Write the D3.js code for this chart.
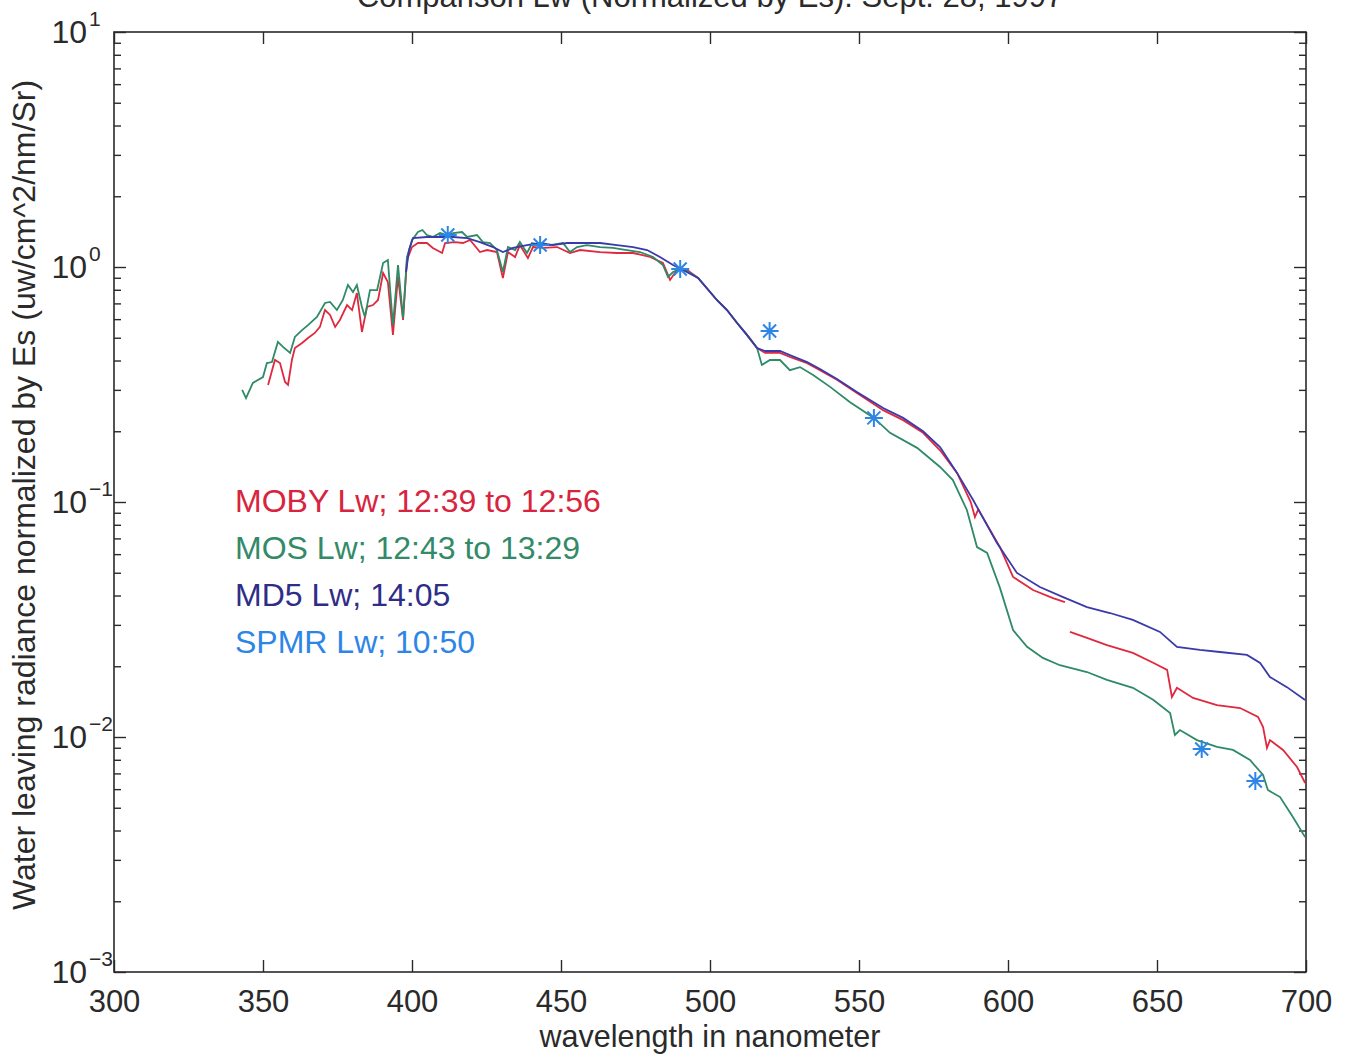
<!DOCTYPE html>
<html>
<head>
<meta charset="utf-8">
<script src="https://d3js.org/d3.v7.min.js"></script>
<style>
  body { margin: 0; background: #fff; }
  svg { font-family: "Liberation Sans", Arial, sans-serif; }
  .axis text { fill: #2a2a2a; }
  .axis line { stroke: #2a2a2a; stroke-width: 1.4; }
</style>
</head>
<body>
<svg id="chart" width="1346" height="1059"></svg>
<script>
// values: wavelength (nm) and Lw/Es
var mobyWave = [351.7,354.0,355.7,357.4,358.4,359.7,360.7,363.1,365.1,367.4,369.1,370.8,372.5,374.2,375.8,378.2,379.9,381.5,383.2,384.9,386.9,388.6,390.3,391.9,393.6,395.3,397.0,398.3,400.0,402.0,405.0,407.0,410.1,411.1,414.4,417.1,419.5,422.8,425.2,428.5,430.5,432.2,434.6,436.2,438.9,440.6,444.0,448.7,453.0,456.4,463.1,468.8,474.2,479.9,484.2,486.6,488.9,492.3,496.0,502.3,505.7,509.1,512.4,515.8,518.5,523.5,526.8,532.6,536.9,542.6,549.3,558.1,564.8,571.5,577.2,582.9,587.5,588.9,590.0,597.3,601.7,608.4,615.1,619.1,620.0,620.8,626.5,633.2,641.9,648.7,653.4,655.0,656.7,662.1,670.1,677.9,683.9,685.6,686.9,687.9,692.3,697.0,699.7];
var mobyLw = [0.315,0.402,0.390,0.324,0.315,0.402,0.452,0.475,0.499,0.524,0.556,0.656,0.625,0.556,0.595,0.689,0.656,0.775,0.529,0.676,0.689,0.724,0.943,0.863,0.514,0.907,0.595,1.071,1.216,1.265,1.265,1.205,1.147,1.265,1.277,1.265,1.303,1.158,1.181,1.158,0.898,1.158,1.103,1.240,1.092,1.216,1.205,1.216,1.147,1.181,1.158,1.147,1.147,1.103,1.040,0.881,0.971,0.971,0.898,0.724,0.656,0.578,0.514,0.452,0.431,0.431,0.414,0.390,0.364,0.331,0.291,0.246,0.223,0.197,0.166,0.133,0.100,0.0863,0.093,0.0643,0.0480,0.0422,0.0390,0.0375,null,0.0280,0.0264,0.0246,0.0228,0.0207,0.0193,0.0148,0.0162,0.01466,0.01368,0.01328,0.01217,0.01103,0.00898,0.0097,0.00881,0.00745,0.00637];

var mosWave = [343.0,344.3,346.6,350.0,351.3,353.0,355.0,356.7,359.1,360.7,363.1,365.1,368.1,370.8,372.5,374.8,376.8,378.5,380.2,381.5,383.2,384.2,385.9,388.3,390.3,391.9,393.6,395.3,397.0,398.3,400.0,402.0,403.5,405.0,407.0,409.4,411.7,413.8,416.8,418.5,421.8,423.8,426.2,428.5,430.5,432.2,434.6,436.2,438.6,440.3,443.0,446.3,450.7,453.0,455.4,458.7,463.1,467.4,472.1,476.5,480.9,484.2,485.9,487.6,490.6,493.3,496.0,502.3,505.7,509.1,512.4,515.8,517.4,520.1,523.5,526.8,530.2,534.6,540.3,547.0,555.0,560.4,569.5,577.2,581.5,586.2,589.6,593.0,597.3,601.7,606.4,611.7,617.4,626.5,633.2,641.9,648.7,654.4,656.0,657.7,663.4,670.1,675.5,681.2,685.6,687.2,691.3,695.6,699.7];
var mosLw = [0.300,0.277,0.321,0.340,0.390,0.394,0.480,0.457,0.431,0.504,0.539,0.566,0.613,0.703,0.710,0.656,0.724,0.838,0.782,0.838,0.676,0.613,0.798,0.798,1.040,1.071,0.566,1.020,0.607,1.100,1.300,1.410,1.437,1.368,1.342,1.395,1.368,1.395,1.409,1.342,1.368,1.277,1.265,1.181,0.952,1.216,1.181,1.277,1.147,1.265,1.240,1.240,1.265,1.158,1.216,1.240,1.216,1.205,1.181,1.158,1.103,1.020,0.907,0.952,0.990,0.943,0.898,0.724,0.656,0.578,0.514,0.452,0.383,0.402,0.402,0.364,0.375,0.347,0.309,0.266,0.228,0.197,0.170,0.141,0.124,0.0925,0.0643,0.0607,0.0431,0.0285,0.0242,0.0217,0.0202,0.0189,0.0175,0.0162,0.0144,0.01265,0.0102,0.0107,0.0097,0.00907,0.00881,0.00798,0.00689,0.00595,0.00555,0.00457,0.00375];

var md5Wave = [398.0,399.0,400.3,405.0,409.4,413.8,418.5,422.8,427.2,430.5,433.9,438.6,443.0,447.3,452.0,458.7,463.1,468.8,474.2,478.9,483.2,487.6,490.9,496.0,502.3,505.7,509.1,512.4,515.8,518.5,523.5,526.8,532.6,536.9,542.6,549.3,558.1,564.8,571.5,577.2,582.9,588.3,596.3,603.0,610.7,618.5,626.5,634.2,641.9,651.0,656.7,664.4,671.1,680.2,684.6,687.9,693.6,699.7];
var md5Lw = [0.95,1.18,1.328,1.342,1.342,1.342,1.328,1.277,1.216,1.158,1.205,1.240,1.265,1.240,1.265,1.265,1.265,1.240,1.216,1.181,1.103,1.020,0.971,0.898,0.724,0.656,0.578,0.514,0.452,0.439,0.439,0.422,0.394,0.368,0.334,0.294,0.251,0.228,0.200,0.1714,0.133,0.102,0.0669,0.0499,0.0435,0.0394,0.0357,0.0337,0.0315,0.0280,0.0242,0.02346,0.0230,0.02234,0.02065,0.0180,0.0163,0.01437];

var spmrWave = [412, 443, 490, 520, 555, 665, 683];
var spmrLw = [1.368, 1.240, 0.981, 0.534, 0.228, 0.00889, 0.0065];

var xTicks = [300, 350, 400, 450, 500, 550, 600, 650, 700];
var yExps = [-3, -2, -1, 0, 1];

var legendLabels = ["MOBY Lw; 12:39 to 12:56", "MOS Lw; 12:43 to 13:29", "MD5 Lw; 14:05", "SPMR Lw; 10:50"];
var legendColors = ["#d8243e", "#338a68", "#2e2e88", "#2d86e6"];

var svg = d3.select("#chart");
var plotLeft = 114, plotRight = 1306, plotTop = 32, plotBottom = 972;

var x = d3.scaleLinear().domain([300, 700]).range([plotLeft, plotRight]);
var y = d3.scaleLog().domain([1e-3, 1e1]).range([plotBottom, plotTop]);

var yMajor = yExps.map(function(e) { return Math.pow(10, e); });
var yMinor = [];
for (var e = -3; e < 1; e++) {
  for (var m = 2; m <= 9; m++) yMinor.push(m * Math.pow(10, e));
}

// title, clipped off at the top of the scan
svg.append("text")
  .attr("x", (plotLeft + plotRight) / 2)
  .attr("y", 7)
  .attr("text-anchor", "middle")
  .attr("font-size", 31)
  .attr("fill", "#2a2a2a")
  .text("Comparison Lw (Normalized by Es): Sept. 28, 1997");

// box
svg.append("rect")
  .attr("x", plotLeft).attr("y", plotTop)
  .attr("width", plotRight - plotLeft).attr("height", plotBottom - plotTop)
  .attr("fill", "none").attr("stroke", "#2a2a2a").attr("stroke-width", 1.6);

// x ticks bottom with labels, top without
var xb = svg.append("g").attr("class", "axis")
  .attr("transform", "translate(0," + plotBottom + ")")
  .call(d3.axisBottom(x).tickValues(xTicks).tickSizeInner(-12).tickSizeOuter(0).tickPadding(18).tickFormat(d3.format("d")));
xb.select(".domain").remove();
xb.selectAll("text").attr("font-size", 31).attr("font-family", "Liberation Sans, Arial, sans-serif");

var xt = svg.append("g").attr("class", "axis")
  .attr("transform", "translate(0," + plotTop + ")")
  .call(d3.axisTop(x).tickValues(xTicks).tickSizeInner(-12).tickSizeOuter(0).tickFormat(""));
xt.select(".domain").remove();

// y ticks: major + minor, both sides
function yTicks(axisFn, pos, vals, len) {
  var g = svg.append("g").attr("class", "axis")
    .attr("transform", "translate(" + pos + ",0)")
    .call(axisFn(y).tickValues(vals).tickSizeInner(len).tickSizeOuter(0).tickFormat(""));
  g.select(".domain").remove();
  return g;
}
yTicks(d3.axisLeft, plotLeft, yMajor, -12);
yTicks(d3.axisLeft, plotLeft, yMinor, -7);
yTicks(d3.axisRight, plotRight, yMajor, -12);
yTicks(d3.axisRight, plotRight, yMinor, -7);

// y labels 10^n
var yl = svg.append("g").attr("fill", "#2a2a2a");
yExps.forEach(function(e) {
  var yy = y(Math.pow(10, e));
  yl.append("text")
    .attr("x", 87).attr("y", yy + 11)
    .attr("text-anchor", "end")
    .attr("font-size", 32)
    .text("10");
  yl.append("text")
    .attr("x", 89).attr("y", yy - 6)
    .attr("font-size", 21)
    .text(e < 0 ? "\u2212" + (-e) : String(e));
});

// axis titles
svg.append("text")
  .attr("x", (plotLeft + plotRight) / 2).attr("y", 1047)
  .attr("text-anchor", "middle")
  .attr("font-size", 30.5)
  .attr("fill", "#2a2a2a")
  .text("wavelength in nanometer");

svg.append("text")
  .attr("transform", "translate(35,495) rotate(-90)")
  .attr("text-anchor", "middle")
  .attr("font-size", 32)
  .attr("fill", "#2a2a2a")
  .text("Water leaving radiance normalized by Es (uw/cm^2/nm/Sr)");

// series
function pairs(w, v) { return w.map(function(d, i) { return [d, v[i]]; }); }

var line = d3.line()
  .defined(function(d) { return d[1] != null; })
  .x(function(d) { return x(d[0]); })
  .y(function(d) { return y(d[1]); });

var plot = svg.append("g");
plot.append("path").datum(pairs(mobyWave, mobyLw))
  .attr("d", line).attr("fill", "none").attr("stroke", "#e0283e").attr("stroke-width", 1.8);
plot.append("path").datum(pairs(mosWave, mosLw))
  .attr("d", line).attr("fill", "none").attr("stroke", "#2f8a66").attr("stroke-width", 1.8);
plot.append("path").datum(pairs(md5Wave, md5Lw))
  .attr("d", line).attr("fill", "none").attr("stroke", "#3a3aaa").attr("stroke-width", 1.8);

var star = "M-9,0H9M0,-9V9M-6.5,-6.5L6.5,6.5M-6.5,6.5L6.5,-6.5";
plot.selectAll(".spmr")
  .data(pairs(spmrWave, spmrLw))
  .enter().append("path")
  .attr("class", "spmr")
  .attr("transform", function(d) { return "translate(" + x(d[0]) + "," + y(d[1]) + ")"; })
  .attr("d", star)
  .attr("fill", "none")
  .attr("stroke", "#2d86e6")
  .attr("stroke-width", 2);

// legend text
svg.selectAll(".leg")
  .data(legendLabels)
  .enter().append("text")
  .attr("class", "leg")
  .attr("x", 235)
  .attr("y", function(d, i) { return 512 + i * 47; })
  .attr("font-size", 32)
  .attr("fill", function(d, i) { return legendColors[i]; })
  .text(function(d) { return d; });
</script>
</body>
</html>
